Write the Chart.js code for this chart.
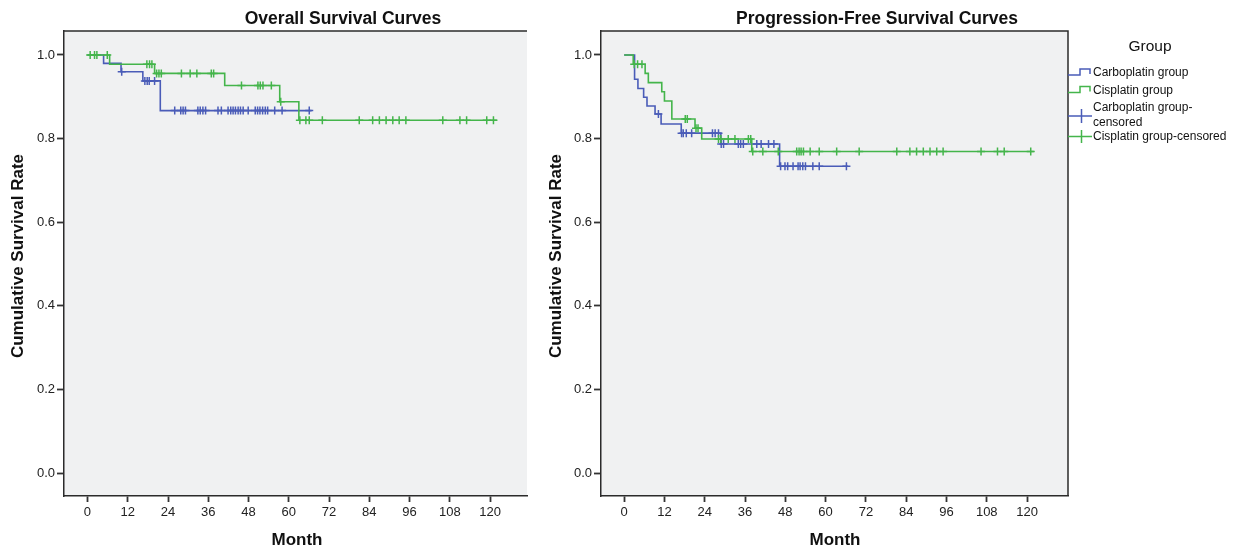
<!DOCTYPE html>
<html>
<head>
<meta charset="utf-8">
<script src="https://cdn.jsdelivr.net/npm/chart.js@4.4.0/dist/chart.umd.min.js"></script>
<style>
    body { margin: 0; background: #fff; width: 1234px; height: 550px; overflow: hidden; position: relative; }
    #os { position: absolute; left: 0; top: 0; }
    #pfs { position: absolute; left: 540px; top: 0; }
</style>
</head>
<body>
<canvas id="os" width="540" height="550" style="width:540px;height:550px"></canvas>
<canvas id="pfs" width="694" height="550" style="width:694px;height:550px"></canvas>
<script>
// tick labels
const xTicks = [0, 12, 24, 36, 48, 60, 72, 84, 96, 108, 120];
const yTicks = [0, 0.2, 0.4, 0.6, 0.8, 1.0];

// Overall survival - carboplatin
const osCarboTimes = [0, 4.8, 10, 16.5, 21.7];
const osCarboSurv = [1, 0.98, 0.96, 0.938, 0.867];
const osCarboEnd = 66.8;
const osCarboCensored = [10.2, 17.1, 17.8, 18.4, 20, 26.0, 27.8, 28.5, 29.2, 32.9, 33.6, 34.4, 35.2, 38.9, 39.9,
    41.9, 42.7, 43.4, 44.1, 44.9, 45.6, 46.4, 47.9, 50.0, 50.7, 51.4, 52.2, 53.0, 53.7, 55.8, 58.0, 66.1];

// Overall survival - cisplatin
const osCisTimes = [0, 6.6, 20, 40.9, 57.3, 63];
const osCisSurv = [1, 0.978, 0.956, 0.927, 0.888, 0.844];
const osCisEnd = 122;
const osCisCensored = [0.8, 2.1, 2.8, 5.9, 17.7, 18.5, 19.2, 20.6, 21.3, 22.0, 28, 30.6, 32.6, 36.9, 37.6, 45.9,
    50.8, 51.5, 52.3, 54.8, 57.6, 63.3, 65.1, 66.1, 70.0, 81.0, 85.0, 87.0, 89.0, 91.0, 92.9, 94.9, 105.9,
    111.0, 113.0, 119.0, 121.0];

// Progression-free survival - carboplatin
const pfsCarboTimes = [0, 3.1, 4.1, 5.8, 6.8, 9.2, 11.0, 17.0, 28.8, 46.3];
const pfsCarboSurv = [1, 0.942, 0.92, 0.899, 0.878, 0.859, 0.835, 0.813, 0.787, 0.734];
const pfsCarboEnd = 66.7;
const pfsCarboCensored = [10.2, 17.1, 17.6, 18.5, 20.1, 26.3, 27.1, 28.1, 28.9, 29.6, 34.0, 34.7, 35.5, 39.5, 40.8,
    43.0, 44.6, 46.6, 47.9, 48.7, 50.3, 51.8, 52.4, 53.2, 54.0, 56.2, 58.1, 66.2];

// Progression-free survival - cisplatin
const pfsCisTimes = [0, 2.7, 6.25, 7.2, 11.2, 12.0, 14.2, 21.1, 23.1, 38.0];
const pfsCisSurv = [1, 0.978, 0.956, 0.934, 0.912, 0.89, 0.847, 0.825, 0.799, 0.769];
const pfsCisEnd = 122;
const pfsCisCensored = [3.0, 4.0, 5.3, 18.2, 18.8, 21.4, 22.0, 28.1, 28.8, 31.0, 33.0, 37.0, 37.7, 38.3, 41.3, 45.9,
    51.4, 52.1, 52.7, 53.4, 55.4, 58.1, 63.3, 70.0, 81.2, 85.1, 87.1, 89.1, 91.1, 93.1, 95.0, 106.3, 111.2,
    113.2, 121.1];

const BLUE = '#4a5cb8';
const GREEN = '#44b54b';
const FONT = "'Liberation Sans', Arial, sans-serif";

const survAt = (times, surv, t) => {
    let s = surv[0];
    for (let i = 0; i < times.length; i++) {
        if (times[i] <= t) s = surv[i];
    }
    return s;
};

// 'before' in Chart.js = hold the old value, then drop at the new x
const stepLine = (times, surv, end, color, order) => ({
    data: times.map((t, i) => ({ x: t, y: surv[i] })).concat([{ x: end, y: surv[surv.length - 1] }]),
    borderColor: color,
    borderWidth: 1.6,
    stepped: 'before',
    pointRadius: 0,
    fill: false,
    order: order
});

const censorMarks = (times, surv, censored, color, order) => ({
    data: censored.map(t => ({ x: t, y: survAt(times, surv, t) })),
    showLine: false,
    pointStyle: 'cross',
    pointRadius: 4,
    pointBorderWidth: 1.5,
    pointBorderColor: color,
    borderColor: color,
    order: order
});

// background, frame, titles and legend
const decorPlugin = {
    id: 'decor',
    beforeDraw(chart, args, opts) {
        const { ctx, chartArea: a } = chart;
        ctx.save();
        ctx.fillStyle = '#f0f1f2';
        ctx.fillRect(a.left, a.top, a.right - a.left, a.bottom - a.top);
        ctx.restore();
    },
    afterDraw(chart, args, opts) {
        const { ctx, chartArea: a } = chart;
        ctx.save();
        ctx.strokeStyle = '#2b2b2b';
        ctx.lineWidth = 1.5;
        ctx.beginPath();
        ctx.moveTo(a.left, a.top);
        ctx.lineTo(a.right, a.top);
        if (opts.rightBorder) {
            ctx.lineTo(a.right, a.bottom);
        }
        ctx.stroke();

        ctx.fillStyle = '#111';
        ctx.textAlign = 'center';
        ctx.textBaseline = 'middle';
        ctx.font = 'bold 17.5px ' + FONT;
        ctx.fillText(opts.title, opts.titleX, 19);
        ctx.font = 'bold 17px ' + FONT;
        ctx.fillText('Month', opts.monthX, 540);
        ctx.save();
        ctx.translate(opts.yTitleX, 256);
        ctx.rotate(-Math.PI / 2);
        ctx.fillText('Cumulative Survival Rate', 0, 0);
        ctx.restore();

        if (opts.legend) {
            const lx = a.right;
            ctx.font = '15.5px ' + FONT;
            ctx.fillText('Group', 610, 47);
            ctx.font = '12px ' + FONT;
            ctx.textAlign = 'left';
            ctx.fillText('Carboplatin group', 553, 73);
            ctx.fillText('Cisplatin group', 553, 91);
            ctx.fillText('Carboplatin group-', 553, 107.5);
            ctx.fillText('censored', 553, 122.5);
            ctx.fillText('Cisplatin group-censored', 553, 137);

            ctx.lineWidth = 1.5;
            ctx.strokeStyle = BLUE;
            ctx.beginPath();
            ctx.moveTo(lx, 75); ctx.lineTo(lx + 12, 75); ctx.lineTo(lx + 12, 69);
            ctx.lineTo(lx + 22, 69); ctx.lineTo(lx + 22, 74);
            ctx.stroke();
            ctx.beginPath();
            ctx.moveTo(lx, 116); ctx.lineTo(lx + 24, 116);
            ctx.moveTo(lx + 13.5, 109); ctx.lineTo(lx + 13.5, 123);
            ctx.stroke();

            ctx.strokeStyle = GREEN;
            ctx.beginPath();
            ctx.moveTo(lx, 92.5); ctx.lineTo(lx + 12, 92.5); ctx.lineTo(lx + 12, 86.5);
            ctx.lineTo(lx + 22, 86.5); ctx.lineTo(lx + 22, 91.5);
            ctx.stroke();
            ctx.beginPath();
            ctx.moveTo(lx, 136.5); ctx.lineTo(lx + 24, 136.5);
            ctx.moveTo(lx + 13.5, 130); ctx.lineTo(lx + 13.5, 143);
            ctx.stroke();
        }
        ctx.restore();
    }
};

const makeScales = (xMin, xMax, yWidth) => ({
    x: {
        type: 'linear',
        min: xMin,
        max: xMax,
        afterBuildTicks: (scale) => { scale.ticks = xTicks.map(v => ({ value: v })); },
        afterFit: (scale) => { scale.height = 54; },
        ticks: { font: { family: FONT, size: 13 }, color: '#222', padding: 3, maxRotation: 0, autoSkip: false },
        grid: { drawOnChartArea: false, drawTicks: true, tickLength: 6, tickColor: '#333', tickWidth: 1.8 },
        border: { display: true, color: '#2b2b2b', width: 1.5 }
    },
    y: {
        type: 'linear',
        min: -0.055,
        max: 1.0574,
        afterBuildTicks: (scale) => { scale.ticks = yTicks.map(v => ({ value: v })); },
        afterFit: (scale) => { scale.width = yWidth; },
        ticks: { font: { family: FONT, size: 13 }, color: '#222', padding: 2, callback: v => v.toFixed(1) },
        grid: { drawOnChartArea: false, drawTicks: true, tickLength: 7, tickColor: '#333', tickWidth: 1.8 },
        border: { display: true, color: '#2b2b2b', width: 1.5 }
    }
});

const baseOptions = (scales, padRight, decor) => ({
    responsive: false,
    animation: false,
    layout: { padding: { top: 31, right: padRight, left: 0, bottom: 0 } },
    plugins: {
        legend: { display: false },
        tooltip: { enabled: false },
        decor: decor
    },
    scales: scales
});

new Chart(document.getElementById('os'), {
    type: 'line',
    data: {
        datasets: [
            censorMarks(osCisTimes, osCisSurv, osCisCensored, GREEN, 0),
            censorMarks(osCarboTimes, osCarboSurv, osCarboCensored, BLUE, 1),
            stepLine(osCisTimes, osCisSurv, osCisEnd, GREEN, 2),
            stepLine(osCarboTimes, osCarboSurv, osCarboEnd, BLUE, 3)
        ]
    },
    options: baseOptions(makeScales(-7, 131, 64), 13,
        { title: 'Overall Survival Curves', titleX: 343, monthX: 297, yTitleX: 18, rightBorder: false, legend: false }),
    plugins: [decorPlugin]
});

new Chart(document.getElementById('pfs'), {
    type: 'line',
    data: {
        datasets: [
            censorMarks(pfsCisTimes, pfsCisSurv, pfsCisCensored, GREEN, 0),
            censorMarks(pfsCarboTimes, pfsCarboSurv, pfsCarboCensored, BLUE, 1),
            stepLine(pfsCisTimes, pfsCisSurv, pfsCisEnd, GREEN, 2),
            stepLine(pfsCarboTimes, pfsCarboSurv, pfsCarboEnd, BLUE, 3)
        ]
    },
    options: baseOptions(makeScales(-6.9, 132.2, 61), 166,
        { title: 'Progression-Free Survival Curves', titleX: 337, monthX: 295, yTitleX: 16, rightBorder: true, legend: true }),
    plugins: [decorPlugin]
});
</script>
</body>
</html>
